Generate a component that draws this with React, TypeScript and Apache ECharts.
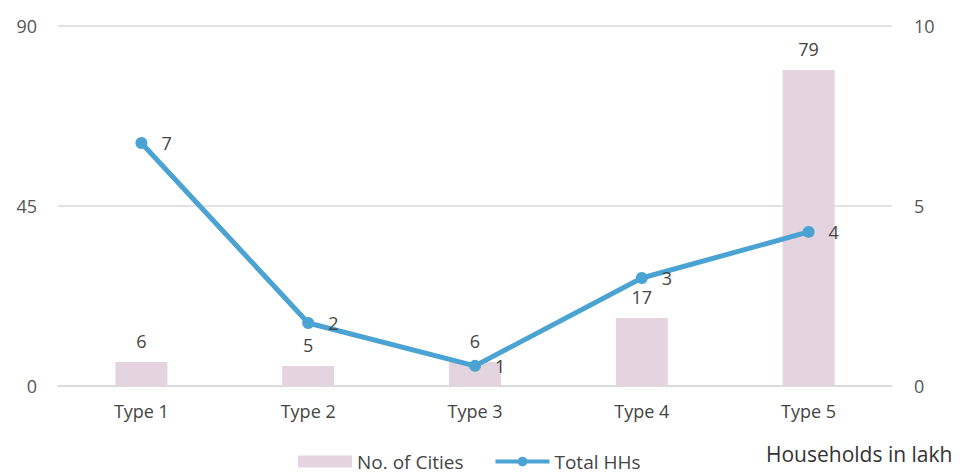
import React, { useEffect, useRef } from "react";
import * as echarts from "echarts";

const categories = ["Type 1", "Type 2", "Type 3", "Type 4", "Type 5"];
const noOfCities = [6, 5, 6, 17, 79];
const totalHHs = [6.75, 1.75, 0.56, 3.0, 4.28];
const leftTicks = { min: 0, max: 90, interval: 45 };
const rightTicks = { min: 0, max: 10, interval: 5 };
const rightNote = "Households in lakh";

const FONT = "'Open Sans', Lato, sans-serif";

export default function App() {
  const ref = useRef<HTMLDivElement>(null);
  useEffect(() => {
    if (!ref.current) return;
    const chart = echarts.init(ref.current, null, { renderer: "svg" });
    chart.setOption({
      animation: false,
      textStyle: { fontFamily: FONT },
      grid: { left: 58, right: 81, top: 26, bottom: 90, containLabel: false },
      legend: {
        left: 293,
        top: 447,
        itemWidth: 54,
        itemHeight: 12,
        itemGap: 30,
        textStyle: { fontSize: 19, color: "#444", fontFamily: FONT },
        data: [
          { name: "No. of Cities", icon: "rect" },
          { name: "Total HHs", lineStyle: { width: 4, color: "#4aa3d3" } },
        ],
      },
      xAxis: {
        type: "category",
        data: categories,
        axisLine: { show: true, lineStyle: { color: "#d9d9d9", width: 1.5 } },
        axisTick: { show: false },
        axisLabel: { color: "#444", fontSize: 18, margin: 16, fontFamily: FONT },
      },
      yAxis: [
        {
          type: "value",
          min: leftTicks.min,
          max: leftTicks.max,
          interval: leftTicks.interval,
          axisLine: { show: false },
          axisTick: { show: false },
          axisLabel: { color: "#555", fontSize: 18, margin: 21, fontFamily: FONT },
          splitLine: { lineStyle: { color: "#d9d9d9", width: 1.5 } },
        },
        {
          type: "value",
          min: rightTicks.min,
          max: rightTicks.max,
          interval: rightTicks.interval,
          axisLine: { show: false },
          axisTick: { show: false },
          axisLabel: { color: "#555", fontSize: 18, margin: 22, fontFamily: FONT },
          splitLine: { show: false },
        },
      ],
      series: [
        {
          name: "No. of Cities",
          type: "bar",
          data: noOfCities,
          barWidth: 52,
          itemStyle: { color: "#e4d4e0" },
          label: {
            show: true,
            position: "top",
            distance: 12,
            color: "#444",
            fontSize: 18,
            fontFamily: FONT,
          },
          z: 1,
        },
        {
          name: "Total HHs",
          type: "line",
          yAxisIndex: 1,
          data: totalHHs,
          symbol: "circle",
          symbolSize: 12,
          lineStyle: { color: "#4aa3d3", width: 5 },
          itemStyle: { color: "#4aa3d3" },
          label: {
            show: true,
            position: "right",
            distance: 14,
            color: "#444",
            fontSize: 18,
            fontFamily: FONT,
            formatter: (p: any) => String(Math.round(p.value)),
          },
          z: 3,
        },
      ],
      graphic: [
        {
          type: "text",
          left: 766,
          top: 443,
          style: { text: rightNote, fontSize: 21, fill: "#333", fontFamily: FONT },
        },
      ],
    });
    return () => chart.dispose();
  }, []);
  return (
    <div
      ref={ref}
      style={{ position: "fixed", left: 0, top: 0, width: 973, height: 476, background: "#fff" }}
    />
  );
}
